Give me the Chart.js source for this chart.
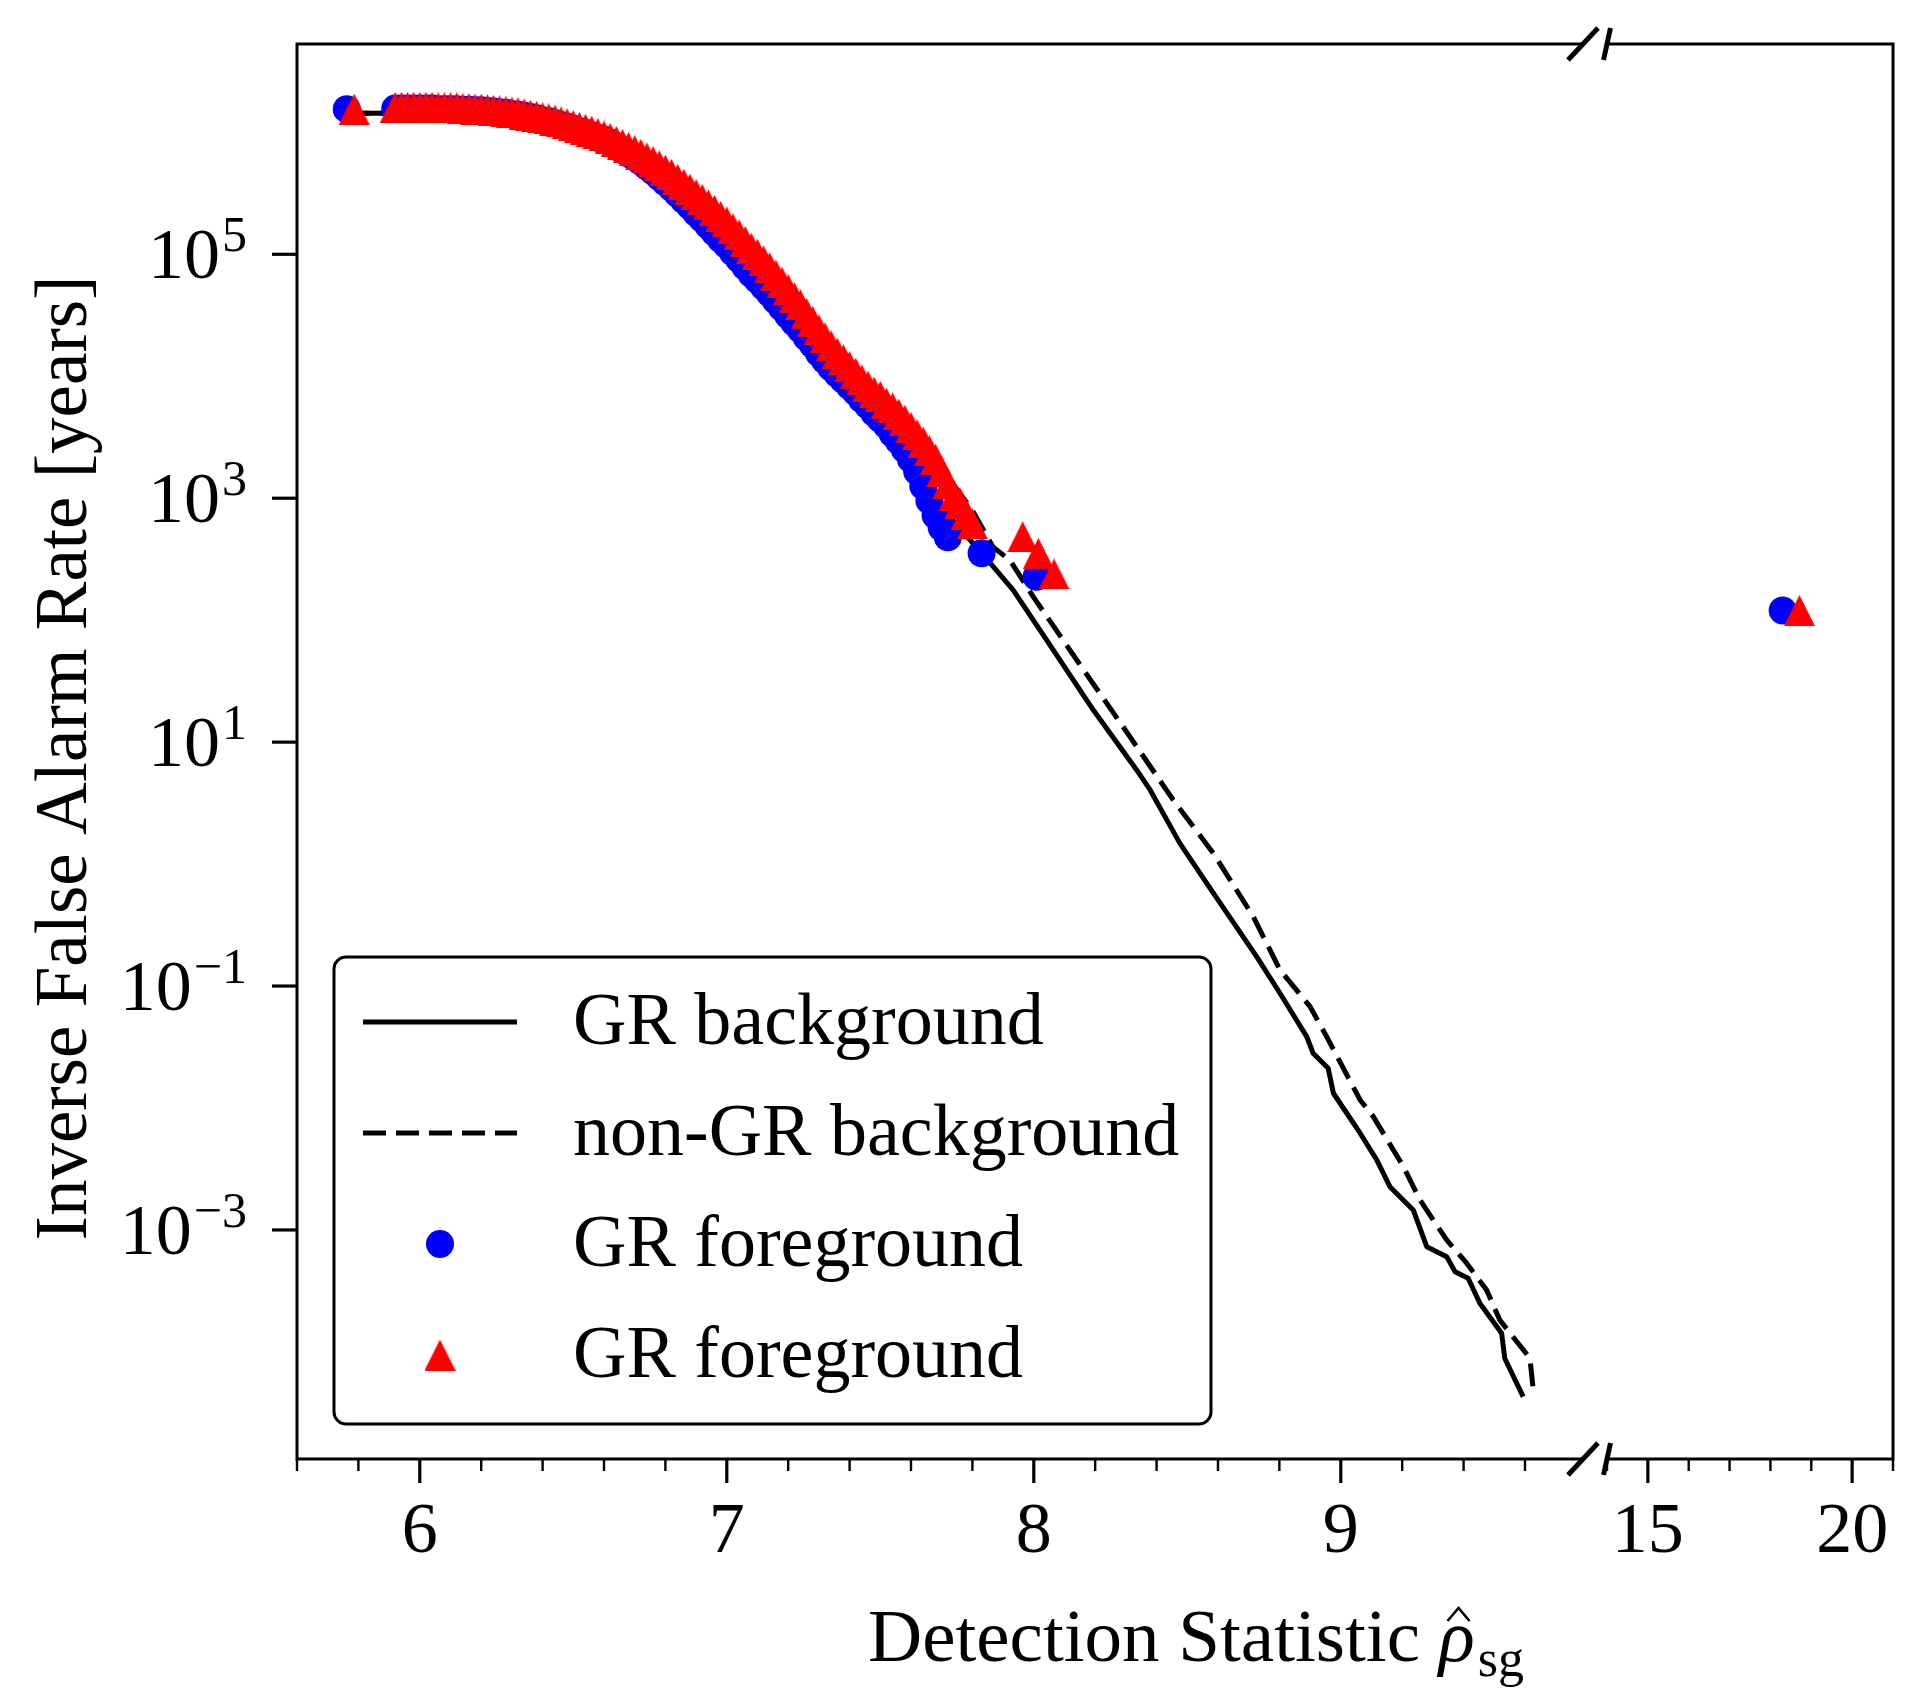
<!DOCTYPE html>
<html>
<head>
<meta charset="utf-8">
<script src="https://cdn.jsdelivr.net/npm/chart.js@4/dist/chart.umd.min.js"></script>
<style>
html, body { margin: 0; padding: 0; background: #ffffff; }
#wrap { position: relative; width: 1922px; height: 1704px; background: #ffffff; }
#lbox { position: absolute; left: 0; top: 0; width: 1600px; height: 1704px; }
#rbox { position: absolute; left: 1600px; top: 0; width: 322px; height: 1704px; }
</style>
</head>
<body>
<div id="wrap">
  <div id="lbox"><canvas id="leftChart"></canvas></div>
  <div id="rbox"><canvas id="rightChart"></canvas></div>
</div>
<script>
// ---------------- data ----------------
const seriesLabels = ['GR background', 'non-GR background', 'GR foreground', 'GR foreground'];

const grBgX = [5.762, 5.919, 6.20, 6.40, 6.60, 6.80, 7.00, 7.20, 7.40, 7.60, 7.75, 7.868, 7.933, 8.042, 8.194, 8.335, 8.379, 8.476, 8.585, 8.726, 8.802, 8.889, 8.910, 8.959, 8.976, 9.063, 9.117, 9.160, 9.236, 9.280, 9.345, 9.372, 9.415, 9.453, 9.524, 9.534, 9.594];
const grBgY = [1.432e6, 1.432e6, 1.40e6, 1.22e6, 8.71e5, 3.802e5, 1.122e5, 2.512e4, 7.079e3, 1.66e3, 6.026e2, 2.748e2, 1.766e2, 6.871e1, 1.832e1, 5.916, 4.055, 1.479, 5.768e-1, 1.742e-1, 8.73e-2, 3.846e-2, 2.812e-2, 2.118e-2, 1.321e-2, 6.209e-3, 3.75e-3, 2.265e-3, 1.459e-3, 7.295e-4, 6.039e-4, 4.55e-4, 4.018e-4, 2.506e-4, 1.422e-4, 8.872e-5, 4.295e-5];

const nonGrBgX = [5.762, 6.20, 6.40, 6.60, 6.80, 7.00, 7.20, 7.40, 7.60, 7.80, 7.867, 7.922, 7.998, 8.140, 8.313, 8.454, 8.585, 8.715, 8.802, 8.900, 8.954, 9.063, 9.106, 9.204, 9.258, 9.301, 9.345, 9.410, 9.475, 9.518, 9.616, 9.627];
const nonGrBgY = [1.432e6, 1.45e6, 1.35e6, 9.8e5, 4.9e5, 1.86e5, 5.13e4, 1.2e4, 3.8e3, 7.943e2, 3.981e2, 3.112e2, 1.56e2, 4.71e1, 1.109e1, 3.357, 1.227, 3.707e-1, 1.355e-1, 6.776e-2, 3.846e-2, 1.164e-2, 8.492e-3, 3.304e-3, 1.762e-3, 1.208e-3, 8.279e-4, 5.333e-4, 3.221e-4, 1.828e-4, 8.872e-5, 4.875e-5];

// GR foreground (blue circles)
const grFgX = [5.762,
  5.92, 5.94, 5.96, 5.98, 6.00, 6.02, 6.04, 6.06, 6.08, 6.10, 6.12, 6.14, 6.16, 6.18, 6.20, 6.22, 6.24, 6.26, 6.28, 6.30,
  6.32, 6.34, 6.36, 6.38, 6.40, 6.42, 6.44, 6.46, 6.48, 6.50, 6.52, 6.54, 6.56, 6.58, 6.60, 6.62, 6.64, 6.66, 6.68, 6.70,
  6.72, 6.74, 6.76, 6.78, 6.80, 6.82, 6.84, 6.86, 6.88, 6.90, 6.92, 6.94, 6.96, 6.98, 7.00, 7.02, 7.04, 7.06, 7.08, 7.10,
  7.12, 7.14, 7.16, 7.18, 7.20, 7.22, 7.24, 7.26, 7.28, 7.30, 7.32, 7.34, 7.36, 7.38, 7.40, 7.42, 7.44, 7.46, 7.48, 7.50,
  7.52, 7.54, 7.56, 7.58, 7.60, 7.62, 7.64, 7.66, 7.68, 7.70, 7.72,
  7.83, 8.009, 18.30];
const grFgY = [1.549e6,
  1.567e6, 1.567e6, 1.567e6, 1.567e6, 1.567e6, 1.567e6, 1.567e6, 1.549e6, 1.549e6, 1.549e6, 1.549e6, 1.531e6, 1.531e6, 1.514e6, 1.514e6, 1.496e6, 1.479e6, 1.462e6, 1.445e6, 1.413e6,
  1.396e6, 1.365e6, 1.334e6, 1.303e6, 1.259e6, 1.230e6, 1.189e6, 1.148e6, 1.109e6, 1.072e6, 1.023e6, 9.886e5, 9.441e5, 9.016e5, 8.710e5, 8.222e5, 7.674e5, 7.161e5, 6.683e5, 6.237e5,
  5.754e5, 5.248e5, 4.786e5, 4.315e5, 3.890e5, 3.508e5, 3.126e5, 2.786e5, 2.483e5, 2.188e5, 1.950e5, 1.718e5, 1.514e5, 1.334e5, 1.189e5, 1.035e5, 9.120e4, 7.943e4, 6.918e4, 6.166e4,
  5.433e4, 4.786e4, 4.169e4, 3.631e4, 3.162e4, 2.754e4, 2.427e4, 2.089e4, 1.820e4, 1.549e4, 1.349e4, 1.175e4, 1.047e4, 9.333e3, 8.318e3, 7.413e3, 6.457e3, 5.754e3, 5.012e3, 4.467e3,
  3.981e3, 3.388e3, 2.951e3, 2.512e3, 2.089e3, 1.660e3, 1.259e3, 9.550e2, 7.244e2, 5.754e2, 4.786e2,
  3.532e2, 2.27e2, 1.2e2];

// second foreground series (red triangles)
const grFg2X = [5.786,
  5.92, 5.94, 5.96, 5.98, 6.00, 6.02, 6.04, 6.06, 6.08, 6.10, 6.12, 6.14, 6.16, 6.18, 6.20, 6.22, 6.24, 6.26, 6.28, 6.30,
  6.32, 6.34, 6.36, 6.38, 6.40, 6.42, 6.44, 6.46, 6.48, 6.50, 6.52, 6.54, 6.56, 6.58, 6.60, 6.62, 6.64, 6.66, 6.68, 6.70,
  6.72, 6.74, 6.76, 6.78, 6.80, 6.82, 6.84, 6.86, 6.88, 6.90, 6.92, 6.94, 6.96, 6.98, 7.00, 7.02, 7.04, 7.06, 7.08, 7.10,
  7.12, 7.14, 7.16, 7.18, 7.20, 7.22, 7.24, 7.26, 7.28, 7.30, 7.32, 7.34, 7.36, 7.38, 7.40, 7.42, 7.44, 7.46, 7.48, 7.50,
  7.52, 7.54, 7.56, 7.58, 7.60, 7.62, 7.64, 7.66, 7.68, 7.70, 7.72, 7.74, 7.76, 7.78, 7.80,
  7.964, 8.015, 8.066, 18.71];
const grFg2Y = [1.549e6,
  1.603e6, 1.603e6, 1.603e6, 1.603e6, 1.603e6, 1.603e6, 1.603e6, 1.585e6, 1.585e6, 1.585e6, 1.585e6, 1.567e6, 1.567e6, 1.549e6, 1.549e6, 1.531e6, 1.514e6, 1.496e6, 1.479e6, 1.462e6,
  1.445e6, 1.413e6, 1.380e6, 1.349e6, 1.318e6, 1.288e6, 1.259e6, 1.216e6, 1.175e6, 1.135e6, 1.096e6, 1.059e6, 1.023e6, 9.772e5, 9.333e5, 8.913e5, 8.414e5, 7.943e5, 7.499e5, 7.079e5,
  6.607e5, 6.166e5, 5.754e5, 5.309e5, 4.898e5, 4.519e5, 4.121e5, 3.758e5, 3.428e5, 3.090e5, 2.818e5, 2.541e5, 2.291e5, 2.042e5, 1.841e5, 1.622e5, 1.445e5, 1.274e5, 1.122e5, 1.0e5,
  8.810e4, 7.762e4, 6.761e4, 5.888e4, 5.129e4, 4.416e4, 3.846e4, 3.273e4, 2.818e4, 2.399e4, 2.065e4, 1.778e4, 1.549e4, 1.365e4, 1.202e4, 1.059e4, 9.333e3, 8.318e3, 7.413e3, 6.839e3,
  6.026e3, 5.495e3, 4.898e3, 4.365e3, 3.802e3, 3.311e3, 2.884e3, 2.455e3, 2.089e3, 1.660e3, 1.318e3, 1.047e3, 9.120e2, 7.413e2, 6.166e2,
  4.831e2, 3.532e2, 2.393e2, 1.2e2];

const xMajorLeft = [6, 7, 8, 9];
const xMajorRight = [15, 20];
const yTickValues = [1e-3, 1e-1, 1e1, 1e3, 1e5];
const xTitle = 'Detection Statistic ';
const xTitleSymbol = 'ρ';
const xTitleSub = 'sg';
const yTitle = 'Inverse False Alarm Rate [years]';

// ---------------- helpers ----------------
const FONT = '"Liberation Serif", "Times New Roman", serif';
const FS = 72;

function pts(xs, ys, lo, hi) {
  const out = [];
  const n = Math.min(xs.length, ys.length);
  for (let i = 0; i < n; i++) {
    if (xs[i] >= lo && xs[i] <= hi) out.push({ x: xs[i], y: ys[i] });
  }
  return out;
}

function triangleImage(size, color) {
  const c = document.createElement('canvas');
  c.width = size; c.height = size;
  const g = c.getContext('2d');
  g.fillStyle = color;
  g.beginPath();
  g.moveTo(size / 2, 0);
  g.lineTo(size, size);
  g.lineTo(0, size);
  g.closePath();
  g.fill();
  return c;
}
const triImg = triangleImage(31, '#ff0000');

function makeDatasets(lo, hi) {
  return [
    { label: seriesLabels[3], data: pts(grFg2X, grFg2Y, lo, hi), showLine: false,
      pointStyle: triImg, pointRadius: 16, pointBorderWidth: 0,
      backgroundColor: '#ff0000', borderColor: '#ff0000', order: 0 },
    { label: seriesLabels[2], data: pts(grFgX, grFgY, lo, hi), showLine: false,
      pointStyle: 'circle', pointRadius: 14, pointBorderWidth: 0,
      backgroundColor: '#0000ff', borderColor: '#0000ff', order: 1 },
    { label: seriesLabels[1], data: pts(nonGrBgX, nonGrBgY, lo, hi), showLine: true,
      borderColor: '#000000', borderWidth: 5, borderDash: [23, 10], pointRadius: 0,
      borderJoinStyle: 'round', tension: 0, fill: false, order: 2 },
    { label: seriesLabels[0], data: pts(grBgX, grBgY, lo, hi), showLine: true,
      borderColor: '#000000', borderWidth: 5, pointRadius: 0,
      borderJoinStyle: 'round', tension: 0, fill: false, order: 3 }
  ];
}

function isMajor(v, majors) {
  const r = Math.round(v);
  return Math.abs(v - r) < 1e-6 && majors.includes(r);
}

function drawBreak(ctx, x, y, dx) {
  ctx.save();
  ctx.lineWidth = 5;
  ctx.strokeStyle = '#000';
  ctx.lineCap = 'butt';
  ctx.beginPath();
  ctx.moveTo(x - dx, y + 16);
  ctx.lineTo(x + dx, y - 16);
  ctx.stroke();
  ctx.restore();
}

const Y_MIN = 1.324e-5;
const Y_MAX = 5.3e6;

// ---------------- plugins ----------------
const leftDecor = {
  id: 'leftDecor',
  afterDraw(chart) {
    const ctx = chart.ctx;
    const a = chart.chartArea;
    const xs = chart.scales.x;
    const ys = chart.scales.y;
    ctx.save();
    ctx.strokeStyle = '#000';
    ctx.fillStyle = '#000';
    // spines (top, left, bottom)
    ctx.lineWidth = 3;
    ctx.lineJoin = 'miter';
    ctx.beginPath();
    ctx.moveTo(a.right, a.top);
    ctx.lineTo(a.left, a.top);
    ctx.lineTo(a.left, a.bottom);
    ctx.lineTo(a.right, a.bottom);
    ctx.stroke();
    // x tick marks
    xs.ticks.forEach(t => {
      const px = xs.getPixelForValue(t.value);
      const maj = isMajor(t.value, xMajorLeft);
      ctx.lineWidth = maj ? 3.2 : 2.4;
      ctx.beginPath();
      ctx.moveTo(px, a.bottom);
      ctx.lineTo(px, a.bottom + (maj ? 24 : 12));
      ctx.stroke();
    });
    // y ticks and labels 10^n
    ys.ticks.forEach(t => {
      const py = ys.getPixelForValue(t.value);
      ctx.lineWidth = 3.2;
      ctx.beginPath();
      ctx.moveTo(a.left - 25, py);
      ctx.lineTo(a.left, py);
      ctx.stroke();
      const e = Math.round(Math.log10(t.value));
      const expStr = (e < 0 ? '\u2212' : '') + Math.abs(e);
      ctx.font = '50px ' + FONT;
      const ew = ctx.measureText(expStr).width;
      ctx.font = FS + 'px ' + FONT;
      const tw = ctx.measureText('10').width;
      const right = 247;
      ctx.textAlign = 'left';
      ctx.textBaseline = 'alphabetic';
      ctx.fillText('10', right - ew - 2 - tw, py + 24);
      ctx.font = '50px ' + FONT;
      ctx.fillText(expStr, right - ew, py - 3);
    });
    // break marks on right edge of left panel
    drawBreak(ctx, a.right, a.top, 15);
    drawBreak(ctx, a.right, a.bottom, 15);

    // y axis title
    ctx.save();
    ctx.translate(86, 758);
    ctx.rotate(-Math.PI / 2);
    ctx.font = '73px ' + FONT;
    ctx.textAlign = 'center';
    ctx.textBaseline = 'alphabetic';
    ctx.fillText(yTitle, 0, 0);
    ctx.restore();

    // x axis title
    const TF = 75;
    ctx.font = TF + 'px ' + FONT;
    const w1 = ctx.measureText(xTitle).width;
    ctx.font = 'italic ' + TF + 'px ' + FONT;
    const wr = ctx.measureText(xTitleSymbol).width;
    ctx.font = '52px ' + FONT;
    const ws = ctx.measureText(xTitleSub).width;
    const total = w1 + wr + 3 + ws;
    let sx = 1196 - total / 2;
    const base = 1661;
    ctx.textAlign = 'left';
    ctx.textBaseline = 'alphabetic';
    ctx.font = TF + 'px ' + FONT;
    ctx.fillText(xTitle, sx, base);
    sx += w1;
    ctx.font = 'italic ' + TF + 'px ' + FONT;
    ctx.fillText(xTitleSymbol, sx, base);
    const hc = sx + wr * 0.55;
    ctx.lineWidth = 2.6;
    ctx.beginPath();
    ctx.moveTo(hc - 11, 1621);
    ctx.lineTo(hc, 1608);
    ctx.lineTo(hc + 11, 1621);
    ctx.stroke();
    sx += wr + 3;
    ctx.font = '52px ' + FONT;
    ctx.fillText(xTitleSub, sx, base + 15);

    // legend
    const L = { left: 334, top: 957, right: 1211, bottom: 1424, r: 12 };
    ctx.beginPath();
    ctx.moveTo(L.left + L.r, L.top);
    ctx.lineTo(L.right - L.r, L.top);
    ctx.arcTo(L.right, L.top, L.right, L.top + L.r, L.r);
    ctx.lineTo(L.right, L.bottom - L.r);
    ctx.arcTo(L.right, L.bottom, L.right - L.r, L.bottom, L.r);
    ctx.lineTo(L.left + L.r, L.bottom);
    ctx.arcTo(L.left, L.bottom, L.left, L.bottom - L.r, L.r);
    ctx.lineTo(L.left, L.top + L.r);
    ctx.arcTo(L.left, L.top, L.left + L.r, L.top, L.r);
    ctx.closePath();
    ctx.fillStyle = '#ffffff';
    ctx.fill();
    ctx.lineWidth = 3;
    ctx.strokeStyle = '#000';
    ctx.stroke();
    const rows = [1022, 1133, 1244, 1355];
    const ds = chart.data.datasets;
    for (let i = 0; i < 4; i++) {
      const d = ds[3 - i];
      const ry = rows[i];
      if (d.showLine) {
        ctx.save();
        ctx.strokeStyle = d.borderColor;
        ctx.lineWidth = d.borderWidth;
        ctx.setLineDash(d.borderDash || []);
        ctx.beginPath();
        ctx.moveTo(363, ry);
        ctx.lineTo(517, ry);
        ctx.stroke();
        ctx.restore();
      } else if (d.pointStyle === 'circle') {
        ctx.fillStyle = d.backgroundColor;
        ctx.beginPath();
        ctx.arc(440, ry, d.pointRadius, 0, Math.PI * 2);
        ctx.fill();
      } else {
        ctx.drawImage(d.pointStyle, 440 - 15.5, ry - 15.5, 31, 31);
      }
      ctx.fillStyle = '#000';
      ctx.font = '74px ' + FONT;
      ctx.textAlign = 'left';
      ctx.textBaseline = 'alphabetic';
      ctx.fillText(d.label, 573, ry + 22);
    }
    ctx.restore();
  }
};

const rightDecor = {
  id: 'rightDecor',
  afterDraw(chart) {
    const ctx = chart.ctx;
    const a = chart.chartArea;
    const xs = chart.scales.x;
    ctx.save();
    ctx.strokeStyle = '#000';
    ctx.lineWidth = 3;
    ctx.lineJoin = 'miter';
    ctx.beginPath();
    ctx.moveTo(a.left, a.top);
    ctx.lineTo(a.right, a.top);
    ctx.lineTo(a.right, a.bottom);
    ctx.lineTo(a.left, a.bottom);
    ctx.stroke();
    xs.ticks.forEach(t => {
      const px = xs.getPixelForValue(t.value);
      const maj = isMajor(t.value, xMajorRight);
      ctx.lineWidth = maj ? 3.2 : 2.4;
      ctx.beginPath();
      ctx.moveTo(px, a.bottom);
      ctx.lineTo(px, a.bottom + (maj ? 24 : 12));
      ctx.stroke();
    });
    drawBreak(ctx, a.left, a.top, 3.5);
    drawBreak(ctx, a.left, a.bottom, 3.5);
    ctx.restore();
  }
};

function tickFont() { return { family: FONT, size: FS }; }

// ---------------- left panel ----------------
new Chart(document.getElementById('leftChart'), {
  type: 'scatter',
  data: { datasets: makeDatasets(0, 12) },
  options: {
    responsive: true,
    maintainAspectRatio: false,
    animation: false,
    events: [],
    layout: { autoPadding: false, padding: { left: 0, top: 44, right: 17, bottom: 0 } },
    plugins: { legend: { display: false }, tooltip: { enabled: false } },
    scales: {
      x: {
        type: 'linear', position: 'bottom', min: 5.6, max: 9.789,
        afterBuildTicks: s => {
          const t = [];
          for (let k = 28; k <= 48; k++) { const v = Math.round(k * 0.2 * 1000) / 1000; if (v <= 9.789) t.push({ value: v }); }
          s.ticks = t;
        },
        afterFit: s => { s.height = 245; s.paddingLeft = 0; s.paddingRight = 0; },
        ticks: {
          autoSkip: false, maxRotation: 0, minRotation: 0, padding: 0,
          font: tickFont(), color: '#000',
          callback: v => isMajor(v, xMajorLeft) ? String(Math.round(v)) : ''
        },
        grid: { display: false, drawTicks: true, tickLength: 31 },
        border: { display: false }
      },
      y: {
        type: 'logarithmic', position: 'left', min: Y_MIN, max: Y_MAX,
        afterBuildTicks: s => { s.ticks = yTickValues.map(v => ({ value: v })); },
        afterFit: s => { s.width = 297; },
        ticks: { display: false },
        grid: { display: false, drawTicks: false },
        border: { display: false }
      }
    }
  },
  plugins: [leftDecor]
});

// ---------------- right panel ----------------
new Chart(document.getElementById('rightChart'), {
  type: 'scatter',
  data: { datasets: makeDatasets(12, 30) },
  options: {
    responsive: true,
    maintainAspectRatio: false,
    animation: false,
    events: [],
    layout: { autoPadding: false, padding: { left: 7, top: 44, right: 29, bottom: 0 } },
    plugins: { legend: { display: false }, tooltip: { enabled: false } },
    scales: {
      x: {
        type: 'linear', position: 'bottom', min: 14, max: 21,
        afterBuildTicks: s => {
          const t = [];
          for (let v = 14; v <= 21; v++) t.push({ value: v });
          s.ticks = t;
        },
        afterFit: s => { s.height = 245; s.paddingLeft = 0; s.paddingRight = 0; },
        ticks: {
          autoSkip: false, maxRotation: 0, minRotation: 0, padding: 0,
          font: tickFont(), color: '#000',
          callback: v => isMajor(v, xMajorRight) ? String(Math.round(v)) : ''
        },
        grid: { display: false, drawTicks: true, tickLength: 31 },
        border: { display: false }
      },
      y: {
        type: 'logarithmic', display: false, min: Y_MIN, max: Y_MAX,
        afterBuildTicks: s => { s.ticks = yTickValues.map(v => ({ value: v })); }
      }
    }
  },
  plugins: [rightDecor]
});
</script>
</body>
</html>
